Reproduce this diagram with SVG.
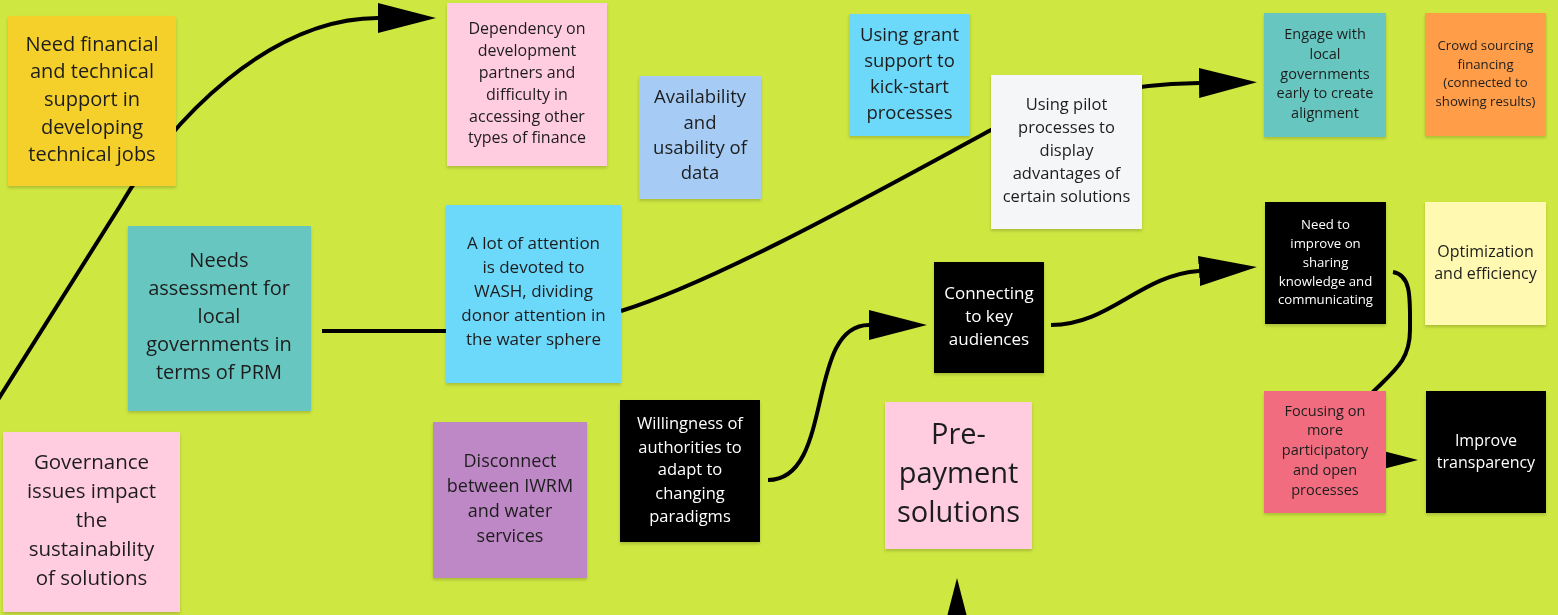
<svg xmlns="http://www.w3.org/2000/svg" width="1558" height="615" viewBox="0 0 1558 615">
<defs>
<style>
.n{filter:url(#sh)}
text{font-family:"Open Sans","Noto Sans","Liberation Sans",sans-serif;text-anchor:middle;fill:#1e1e1e}
.w{fill:#ffffff}
.c{fill:none;stroke:#000;stroke-width:4;stroke-linecap:butt}
.a{marker-end:url(#ah)}
</style>
<filter id="sh" x="-10%" y="-10%" width="120%" height="125%">
<feDropShadow dx="0" dy="2" stdDeviation="1.5" flood-color="#000" flood-opacity="0.18"/>
</filter>
<marker id="ah" markerUnits="userSpaceOnUse" markerWidth="60" markerHeight="32" refX="0" refY="15" orient="auto" viewBox="0 0 60 30">
<path d="M0,0 L58,15 L0,30 Z" fill="#000"/>
</marker>
</defs>
<rect width="1558" height="615" fill="#cfe741"/>
<g id="connectors">
<path class="c a" d="M-6,406 L120,206 C170,120 270,18 378,18"/>
<path class="c" d="M322,331 L446,331"/>
<path class="c a" d="M621,311 C720,280 880,190 991,130 C1050,98 1130,84 1199,83"/>
<path class="c a" d="M1051,325 C1110,325 1140,275 1199,271"/>
<path class="c a" d="M768,480 C835,480 805,325 869,325"/>
<path class="c" d="M1393,272 C1412,275 1410,300 1410,330 C1410,360 1395,370 1372,393"/>
<path class="c a" d="M1330,460 L1360,460"/>
<path class="c a" d="M957,660 L957,636"/>
</g>
<g id="n-financial" class="n">
<rect x="8" y="16" width="168" height="170" fill="#f5d02a"/>
<text font-size="20"><tspan x="92" y="51">Need financial</tspan><tspan x="92" y="78">and technical</tspan><tspan x="92" y="106">support in</tspan><tspan x="92" y="134">developing</tspan><tspan x="92" y="161">technical jobs</tspan></text>
</g>
<g id="n-needs" class="n">
<rect x="128" y="226" width="183" height="185" fill="#67c6c0"/>
<text font-size="20"><tspan x="219" y="267">Needs</tspan><tspan x="219" y="295">assessment for</tspan><tspan x="219" y="323">local</tspan><tspan x="219" y="351">governments in</tspan><tspan x="219" y="379">terms of PRM</tspan></text>
</g>
<g id="n-governance" class="n">
<rect x="3" y="432" width="177" height="180" fill="#ffcce0"/>
<text font-size="20.5"><tspan x="91.5" y="469">Governance</tspan><tspan x="91.5" y="498">issues impact</tspan><tspan x="91.5" y="527">the</tspan><tspan x="91.5" y="556">sustainability</tspan><tspan x="91.5" y="585">of solutions</tspan></text>
</g>
<g id="n-disconnect" class="n">
<rect x="433" y="422" width="154" height="156" fill="#be88c7"/>
<text font-size="18"><tspan x="510" y="467">Disconnect</tspan><tspan x="510" y="492">between IWRM</tspan><tspan x="510" y="517">and water</tspan><tspan x="510" y="542">services</tspan></text>
</g>
<g id="n-dependency" class="n">
<rect x="447" y="3" width="160" height="163" fill="#ffcce0"/>
<text font-size="16"><tspan x="527" y="34">Dependency on</tspan><tspan x="527" y="56">development</tspan><tspan x="527" y="78">partners and</tspan><tspan x="527" y="100">difficulty in</tspan><tspan x="527" y="122">accessing other</tspan><tspan x="527" y="143">types of finance</tspan></text>
</g>
<g id="n-availability" class="n">
<rect x="639" y="76" width="122" height="123" fill="#a6ccf5"/>
<text font-size="18.5"><tspan x="700" y="103">Availability</tspan><tspan x="700" y="129">and</tspan><tspan x="700" y="154">usability of</tspan><tspan x="700" y="179">data</tspan></text>
</g>
<g id="n-grant" class="n">
<rect x="849" y="14" width="121" height="122" fill="#6cd8fa"/>
<text font-size="18.5"><tspan x="909.5" y="41">Using grant</tspan><tspan x="909.5" y="67">support to</tspan><tspan x="909.5" y="93">kick-start</tspan><tspan x="909.5" y="119">processes</tspan></text>
</g>
<g id="n-pilot" class="n">
<rect x="991" y="75" width="151" height="154" fill="#f5f6f8"/>
<text font-size="16.5"><tspan x="1066.5" y="110">Using pilot</tspan><tspan x="1066.5" y="133">processes to</tspan><tspan x="1066.5" y="156">display</tspan><tspan x="1066.5" y="179">advantages of</tspan><tspan x="1066.5" y="202">certain solutions</tspan></text>
</g>
<g id="n-wash" class="n">
<rect x="446" y="205" width="175" height="178" fill="#6cd8fa"/>
<text font-size="17"><tspan x="533.5" y="249">A lot of attention</tspan><tspan x="533.5" y="273">is devoted to</tspan><tspan x="533.5" y="297">WASH, dividing</tspan><tspan x="533.5" y="321">donor attention in</tspan><tspan x="533.5" y="345">the water sphere</tspan></text>
</g>
<g id="n-willingness" class="n">
<rect x="620" y="400" width="140" height="142" fill="#000"/>
<text class="w" font-size="16.5"><tspan x="690" y="429">Willingness of</tspan><tspan x="690" y="453">authorities to</tspan><tspan x="690" y="475">adapt to</tspan><tspan x="690" y="499">changing</tspan><tspan x="690" y="522">paradigms</tspan></text>
</g>
<g id="n-connecting" class="n">
<rect x="934" y="262" width="110" height="111" fill="#000"/>
<text class="w" font-size="17"><tspan x="989" y="299">Connecting</tspan><tspan x="989" y="322">to key</tspan><tspan x="989" y="345">audiences</tspan></text>
</g>
<g id="n-prepayment" class="n">
<rect x="885" y="402" width="147" height="147" fill="#ffcce0"/>
<text font-size="29"><tspan x="958.5" y="444">Pre-</tspan><tspan x="958.5" y="483">payment</tspan><tspan x="958.5" y="522">solutions</tspan></text>
</g>
<g id="n-engage" class="n">
<rect x="1264" y="13" width="122" height="124" fill="#67c6c0"/>
<text font-size="14.5"><tspan x="1325" y="39">Engage with</tspan><tspan x="1325" y="59">local</tspan><tspan x="1325" y="79">governments</tspan><tspan x="1325" y="98">early to create</tspan><tspan x="1325" y="118">alignment</tspan></text>
</g>
<g id="n-crowd" class="n">
<rect x="1425" y="13" width="121" height="123" fill="#ff9d48"/>
<text font-size="13.2"><tspan x="1485.5" y="50">Crowd sourcing</tspan><tspan x="1485.5" y="69">financing</tspan><tspan x="1485.5" y="87">(connected to</tspan><tspan x="1485.5" y="106">showing results)</tspan></text>
</g>
<g id="n-sharing" class="n">
<rect x="1265" y="202" width="121" height="122" fill="#000"/>
<text class="w" font-size="13.2"><tspan x="1325.5" y="229">Need to</tspan><tspan x="1325.5" y="248">improve on</tspan><tspan x="1325.5" y="267">sharing</tspan><tspan x="1325.5" y="286">knowledge and</tspan><tspan x="1325.5" y="304">communicating</tspan></text>
</g>
<g id="n-optimization" class="n">
<rect x="1425" y="202" width="121" height="123" fill="#fff9b1"/>
<text font-size="16"><tspan x="1485.5" y="257">Optimization</tspan><tspan x="1485.5" y="279">and efficiency</tspan></text>
</g>
<g id="n-focusing" class="n">
<rect x="1264" y="391" width="122" height="122" fill="#f16c7f"/>
<text font-size="14.5"><tspan x="1325" y="416">Focusing on</tspan><tspan x="1325" y="435">more</tspan><tspan x="1325" y="455">participatory</tspan><tspan x="1325" y="475">and open</tspan><tspan x="1325" y="495">processes</tspan></text>
</g>
<g id="n-transparency" class="n">
<rect x="1426" y="391" width="120" height="122" fill="#000"/>
<text class="w" font-size="16"><tspan x="1486" y="446">Improve</tspan><tspan x="1486" y="468">transparency</tspan></text>
</g>
</svg>
